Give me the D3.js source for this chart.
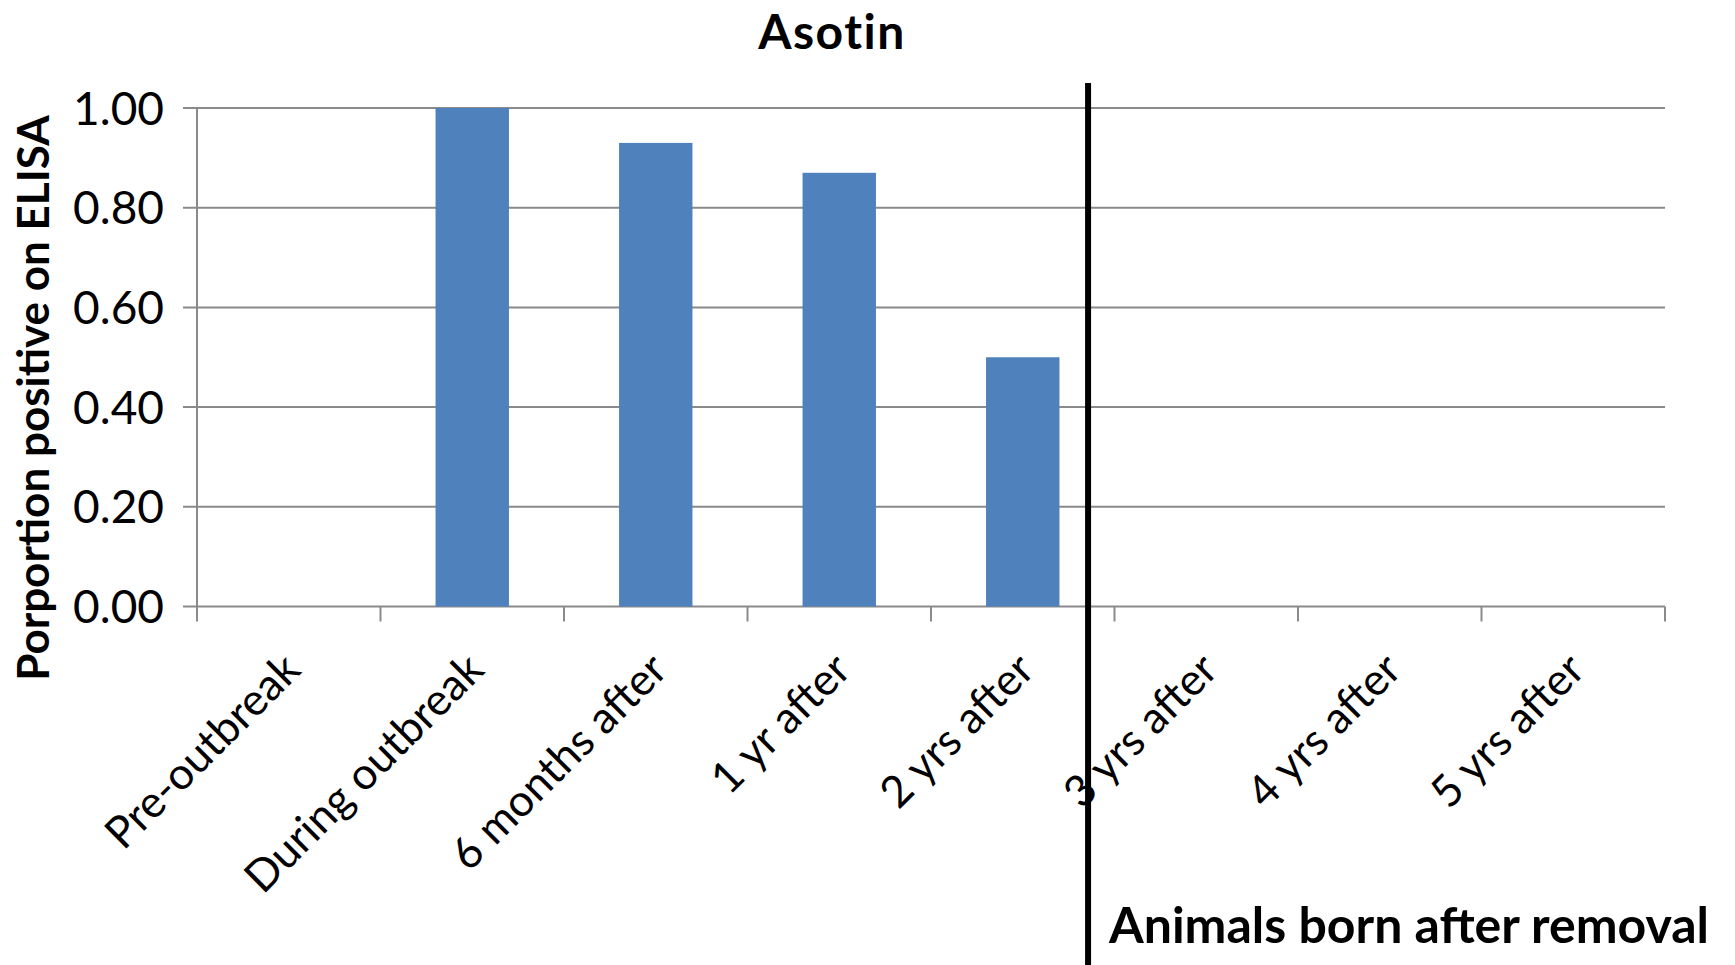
<!DOCTYPE html>
<html>
<head>
<meta charset="utf-8">
<script src="https://cdn.jsdelivr.net/npm/d3@7"></script>
<style>
  html, body { margin: 0; padding: 0; background: #ffffff; }
  svg { display: block; }
  text { font-family: Lato, "Open Sans", sans-serif; fill: #000; }
</style>
</head>
<body>
<svg id="chart" width="1735" height="965"></svg>
<script>
const categories = ["Pre-outbreak", "During outbreak", "6 months after", "1 yr after", "2 yrs after", "3 yrs after", "4 yrs after", "5 yrs after"];
const values = [null, 1.00, 0.93, 0.87, 0.50, null, null, null];
const yTicks = [0, 0.2, 0.4, 0.6, 0.8, 1.0];
const title = "Asotin";
const yTitle = "Porportion positive on ELISA";
const note = "Animals born after removal";
const dividerAfter = "2 yrs after";

(function () {
const svg = d3.select("#chart");
const mLeft = 197, mRight = 1665, mTop = 108, mBottom = 606.5;

const x = d3.scaleBand().domain(categories).range([mLeft, mRight]).paddingInner(0.6).paddingOuter(0.3);
const xEdge = d3.scaleBand().domain(categories).range([mLeft, mRight]).padding(0);
const y = d3.scaleLinear().domain([0, 1]).range([mBottom, mTop]);

const grid = "#8a8a8a";

svg.append("g").selectAll("line").data(yTicks).join("line")
  .attr("x1", mLeft - 14).attr("x2", mRight)
  .attr("y1", d => y(d)).attr("y2", d => y(d))
  .attr("stroke", grid).attr("stroke-width", 2);

svg.append("line").attr("x1", mLeft).attr("x2", mLeft)
  .attr("y1", mTop).attr("y2", mBottom + 15)
  .attr("stroke", grid).attr("stroke-width", 2);

const edges = categories.map(c => xEdge(c)).concat([mRight]);
svg.append("g").selectAll("line").data(edges.slice(1)).join("line")
  .attr("x1", d => d).attr("x2", d => d)
  .attr("y1", mBottom).attr("y2", mBottom + 15)
  .attr("stroke", grid).attr("stroke-width", 2);

svg.append("g").selectAll("text").data(yTicks).join("text")
  .attr("x", mLeft - 33).attr("y", d => y(d))
  .attr("dy", "0.36em")
  .attr("text-anchor", "end")
  .style("font-size", "46px")
  .text(d => d3.format(".2f")(d));

svg.append("g").selectAll("rect").data(categories.map((c, i) => ({c, v: values[i]})).filter(d => d.v != null)).join("rect")
  .attr("x", d => x(d.c)).attr("width", x.bandwidth())
  .attr("y", d => y(d.v)).attr("height", d => y(0) - y(d.v))
  .attr("fill", "#4f81bd");

svg.append("g").selectAll("text").data(categories).join("text")
  .attr("transform", d => `translate(${xEdge(d) + xEdge.bandwidth() / 2 - 8},${mBottom + 44}) rotate(-45)`)
  .attr("text-anchor", "end")
  .attr("dy", "0.7em")
  .style("font-size", "44px")
  .text(d => d);

const divX = xEdge(dividerAfter) + xEdge.bandwidth() * 0.856;
svg.append("line").attr("x1", divX).attr("x2", divX)
  .attr("y1", 83).attr("y2", 965)
  .attr("stroke", "#000").attr("stroke-width", 6);

svg.append("text").attr("x", 832).attr("y", 49)
  .attr("text-anchor", "middle")
  .style("font-size", "48px").style("font-weight", "bold")
  .style("letter-spacing", "1.5px")
  .text(title);

svg.append("text").attr("transform", `translate(49,398) rotate(-90)`)
  .attr("text-anchor", "middle")
  .style("font-size", "44px").style("font-weight", "bold")
  .text(yTitle);

svg.append("text").attr("x", 1109).attr("y", 943)
  .style("font-size", "50px").style("font-weight", "bold")
  .text(note);
})();
</script>
</body>
</html>
